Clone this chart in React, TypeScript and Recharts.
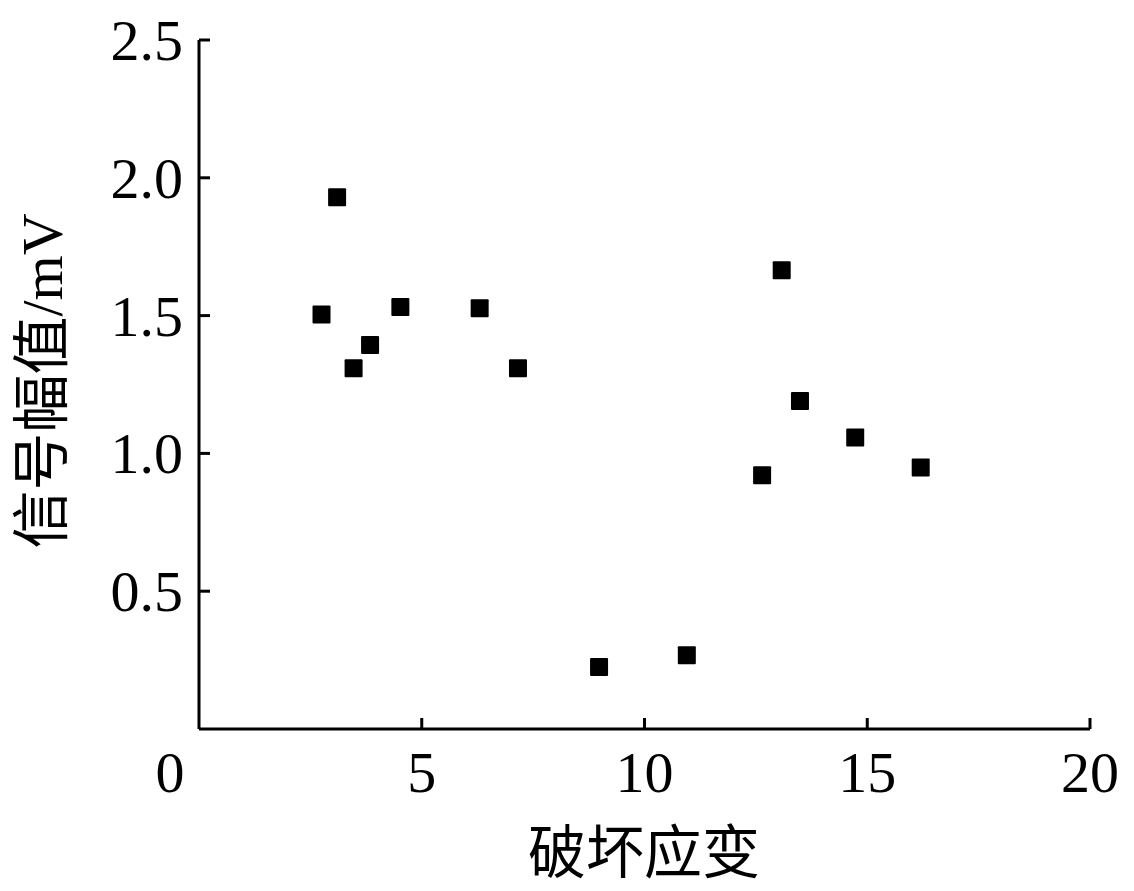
import { ScatterChart, Scatter, XAxis, YAxis } from "recharts"

// 破坏应变 vs 信号幅值 readings
const strain = [2.75, 3.1, 3.47, 3.84, 4.52, 6.3, 7.16, 8.98, 10.95, 12.64, 13.08, 13.49, 14.73, 16.2]
const amplitude = [1.504, 1.929, 1.309, 1.393, 1.531, 1.527, 1.309, 0.225, 0.268, 0.921, 1.665, 1.19, 1.058, 0.949]

const xTicks = [0, 5, 10, 15, 20]
const yTicks = [0.5, 1.0, 1.5, 2.0, 2.5]

const data = strain.map((s, i) => ({ x: s, y: amplitude[i] }))

const FONT = '"Liberation Serif", "Times New Roman", "Noto Sans CJK SC", serif'
const FS = 58

const W = 1134
const H = 891
const Y_AXIS_W = 199
const X_AXIS_H = 162
const AXIS_X = Y_AXIS_W
const AXIS_Y = H - X_AXIS_H

// ticks point inward, labels stay outside
const XTick = (props: any) => {
  const { x, payload } = props
  const v = payload.value
  return (
    <g>
      {v !== 0 && <line x1={x} y1={AXIS_Y} x2={x} y2={AXIS_Y - 11} stroke="#000" strokeWidth={3} />}
      <text x={v === 0 ? x - 29 : x} y={AXIS_Y + 63} textAnchor="middle" fontFamily={FONT} fontSize={FS} fill="#000">
        {v}
      </text>
    </g>
  )
}

const YTick = (props: any) => {
  const { y, payload } = props
  return (
    <g>
      <line x1={AXIS_X} y1={y} x2={AXIS_X + 11} y2={y} stroke="#000" strokeWidth={3} />
      <text x={AXIS_X - 16} y={y + 20} textAnchor="end" fontFamily={FONT} fontSize={FS} fill="#000">
        {payload.value.toFixed(1)}
      </text>
    </g>
  )
}

const SquareDot = (props: any) => {
  const { cx, cy } = props
  return <rect x={cx - 9} y={cy - 9} width={18} height={18} rx={1} fill="#000" />
}

export default function App() {
  return (
    <div style={{ position: "absolute", left: 0, top: 0, background: "#fff" }}>
      <ScatterChart width={W} height={H} margin={{ top: 40, right: 44, bottom: 0, left: 0 }}>
        <XAxis
          type="number"
          dataKey="x"
          domain={[0, 20]}
          ticks={xTicks}
          height={X_AXIS_H}
          tickLine={false}
          axisLine={{ stroke: "#000", strokeWidth: 3 }}
          tick={<XTick />}
          interval={0}
        />
        <YAxis
          type="number"
          dataKey="y"
          domain={[0, 2.5]}
          ticks={yTicks}
          width={Y_AXIS_W}
          tickLine={false}
          axisLine={{ stroke: "#000", strokeWidth: 3 }}
          tick={<YTick />}
          interval={0}
        />
        <Scatter data={data} fill="#000" shape={<SquareDot />} isAnimationActive={false} />
        <text x={644} y={873} textAnchor="middle" fontFamily={FONT} fontSize={FS} fill="#000">
          破坏应变
        </text>
        <text
          x={62}
          y={381}
          textAnchor="middle"
          transform="rotate(-90 62 381)"
          fontFamily={FONT}
          fontSize={FS}
          fill="#000"
        >
          信号幅值/mV
        </text>
      </ScatterChart>
    </div>
  )
}
